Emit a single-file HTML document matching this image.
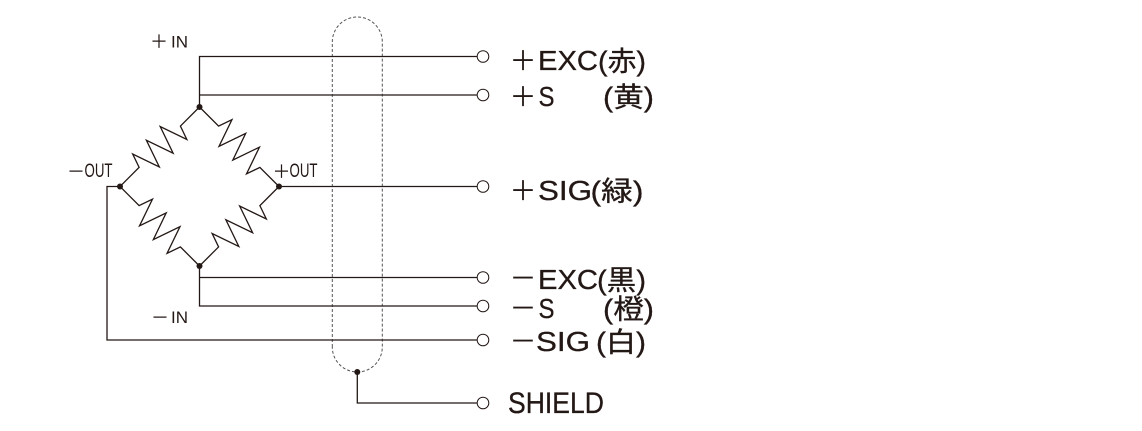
<!DOCTYPE html>
<html>
<head>
<meta charset="utf-8">
<style>
  html,body{margin:0;padding:0;background:#fff;}
  body{width:1142px;height:431px;overflow:hidden;}
  svg{display:block;}
  .lat{font-family:"Liberation Sans","Noto Sans CJK JP",sans-serif;fill:#231815;}
  .cjk{font-family:"Noto Sans CJK JP","Liberation Sans",sans-serif;fill:#231815;}
  .big{stroke:#231815;stroke-width:0.3;}
</style>
</head>
<body>
<svg width="1142" height="431" viewBox="0 0 1142 431" xmlns="http://www.w3.org/2000/svg">
  <rect width="1142" height="431" fill="#fff"/>

  <!-- shield cable (dashed) -->
  <path d="M332.3,347 V42 A25,25 0 0 1 382.3,42 V347 A25,25 0 0 1 332.3,347 Z" fill="none" stroke="#555" stroke-width="1" stroke-dasharray="3 2"/>

  <g fill="none" stroke="#231815" stroke-width="1.3">
    <!-- resistors -->
    <g transform="translate(199.5,107) rotate(135)">
      <path d="M0 0 L27 0 L31.9 -14 L41.6 14 L51.3 -14 L61.1 14 L70.8 -14 L80.5 14 L85.4 0 L112.4 0"/>
    </g>
    <g transform="translate(199.5,107) rotate(45)">
      <path d="M0 0 L27 0 L31.9 -14 L41.6 14 L51.3 -14 L61.1 14 L70.8 -14 L80.5 14 L85.4 0 L112.4 0"/>
    </g>
    <g transform="translate(199.5,266) rotate(225)">
      <path d="M0 0 L27 0 L31.9 -14 L41.6 14 L51.3 -14 L61.1 14 L70.8 -14 L80.5 14 L85.4 0 L112.4 0"/>
    </g>
    <g transform="translate(199.5,266) rotate(-45)">
      <path d="M0 0 L27 0 L31.9 -14 L41.6 14 L51.3 -14 L61.1 14 L70.8 -14 L80.5 14 L85.4 0 L112.4 0"/>
    </g>

    <!-- wires -->
    <path d="M199.5,107 V56.5 H477"/>
    <path d="M199.5,95 H477"/>
    <path d="M279,186.5 H477"/>
    <path d="M199.5,266 V306 H477"/>
    <path d="M199.5,277.5 H477"/>
    <path d="M120,186.5 H107 V340 H477"/>
    <path d="M357.3,372 V403 H477"/>
  </g>

  <!-- terminals -->
  <g fill="#fff" stroke="#231815" stroke-width="1">
    <circle cx="483" cy="56.5" r="5.8"/>
    <circle cx="483" cy="95" r="5.8"/>
    <circle cx="483" cy="186.5" r="5.8"/>
    <circle cx="483" cy="277.5" r="5.8"/>
    <circle cx="483" cy="306" r="5.8"/>
    <circle cx="483" cy="340" r="5.8"/>
    <circle cx="483" cy="403" r="5.8"/>
  </g>

  <!-- junction dots -->
  <g fill="#231815">
    <circle cx="199.5" cy="107" r="3"/>
    <circle cx="120" cy="186.5" r="3"/>
    <circle cx="279" cy="186.5" r="3"/>
    <circle cx="199.5" cy="266" r="3"/>
    <circle cx="357.3" cy="372" r="3"/>
  </g>

  <!-- bridge labels -->
  <text class="cjk" x="150" y="48" font-size="18">＋</text>
  <text class="lat" x="171" y="47.5" font-size="17" textLength="17" lengthAdjust="spacingAndGlyphs">IN</text>

  <text class="cjk" x="67" y="178" font-size="18">－</text>
  <text class="lat" x="84.5" y="177" font-size="19" textLength="28" lengthAdjust="spacingAndGlyphs">OUT</text>

  <text class="cjk" x="272.5" y="178" font-size="18">＋</text>
  <text class="lat" x="289.5" y="177" font-size="19" textLength="28" lengthAdjust="spacingAndGlyphs">OUT</text>

  <text class="cjk" x="151" y="324" font-size="18">－</text>
  <text class="lat" x="171" y="323" font-size="17" textLength="17" lengthAdjust="spacingAndGlyphs">IN</text>

  <!-- terminal labels -->
  <text class="cjk" x="509.5" y="70.5" font-size="27">＋</text>
  <text class="lat big" x="538" y="70" font-size="28" textLength="60" lengthAdjust="spacingAndGlyphs">EXC</text>
  <text class="lat big" x="598" y="70.5" font-size="27.5" textLength="48" lengthAdjust="spacingAndGlyphs">(赤)</text>

  <text class="cjk" x="509.5" y="106.5" font-size="27">＋</text>
  <text class="lat big" x="538.5" y="106" font-size="28" textLength="16" lengthAdjust="spacingAndGlyphs">S</text>
  <text class="lat big" x="603" y="106.5" font-size="27.5" textLength="51" lengthAdjust="spacingAndGlyphs">(黄)</text>

  <text class="cjk" x="509.5" y="200.5" font-size="27">＋</text>
  <text class="lat big" x="538" y="200" font-size="28" textLength="54" lengthAdjust="spacingAndGlyphs">SIG</text>
  <text class="lat big" x="590.5" y="200.5" font-size="27.5" textLength="53" lengthAdjust="spacingAndGlyphs">(緑)</text>

  <text class="cjk" x="509.5" y="288" font-size="27">－</text>
  <text class="lat big" x="538" y="289" font-size="28" textLength="60" lengthAdjust="spacingAndGlyphs">EXC</text>
  <text class="lat big" x="597" y="289.5" font-size="27.5" textLength="49" lengthAdjust="spacingAndGlyphs">(黒)</text>

  <text class="cjk" x="509.5" y="318" font-size="27">－</text>
  <text class="lat big" x="538.5" y="318" font-size="28" textLength="16" lengthAdjust="spacingAndGlyphs">S</text>
  <text class="lat big" x="603" y="318.5" font-size="27.5" textLength="51" lengthAdjust="spacingAndGlyphs">(橙)</text>

  <text class="cjk" x="509.5" y="351" font-size="27">－</text>
  <text class="lat big" x="536" y="351" font-size="28" textLength="54" lengthAdjust="spacingAndGlyphs">SIG</text>
  <text class="lat big" x="596" y="351.5" font-size="27.5" textLength="50" lengthAdjust="spacingAndGlyphs">(白)</text>

  <text class="lat big" x="508" y="413" font-size="29.5" textLength="96" lengthAdjust="spacingAndGlyphs">SHIELD</text>
</svg>
</body>
</html>
